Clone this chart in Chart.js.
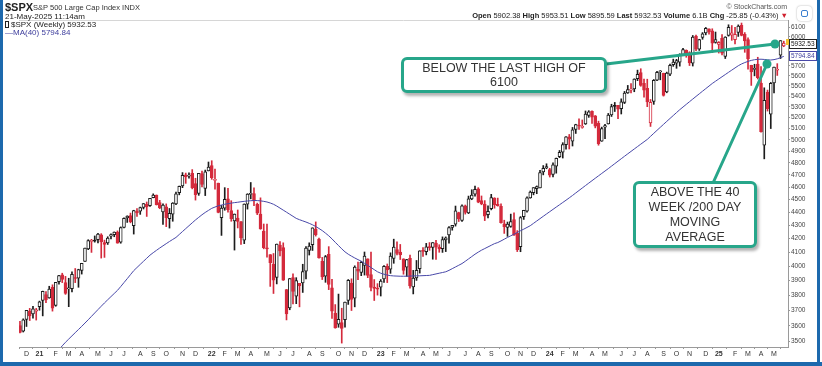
<!DOCTYPE html>
<html>
<head>
<meta charset="utf-8">
<script src="https://cdn.jsdelivr.net/npm/chart.js@4.4.1/dist/chart.umd.min.js"></script>
<style>
  html, body { margin: 0; padding: 0; background: #fff; }
  #wrap { position: relative; width: 822px; height: 366px; overflow: hidden; font-family: "Liberation Sans", Arial, sans-serif; }
  #chart { position: absolute; left: 0; top: 0; }
  .t { position: absolute; white-space: nowrap; color: #222; line-height: 1; }
  .bar { position: absolute; background: #1d69ad; }
  .callout { position: absolute; box-sizing: border-box; border: 3px solid #27a68a; border-radius: 6px; background: #fff;
             box-shadow: 2px 3px 3px rgba(0,0,0,0.3); text-align: center; color: #333; font-size: 12.5px; }
  .icon { position: absolute; left: 797px; top: 6px; width: 15px; height: 15px; border-radius: 4px; background: #fff;
          box-shadow: 0 0 2px rgba(0,0,0,0.35); }
  .icon i { position: absolute; left: 4px; top: 4px; width: 5px; height: 5px; border: 1px solid #3a7fd0; border-radius: 2px; }
</style>
</head>
<body>
<div id="wrap">
  <canvas id="chart" width="822" height="366"></canvas>

  <div class="t" style="left:5px;top:2px;font-size:11px;font-weight:bold;">$SPX</div>
  <div class="t" style="left:33px;top:4px;font-size:7.5px;color:#333;">S&amp;P 500 Large Cap Index INDX</div>
  <div class="t" style="left:5px;top:12.5px;font-size:8px;">21-May-2025 11:14am</div>
  <div class="t" style="left:5px;top:20.5px;font-size:8px;"><span style="display:inline-block;width:2px;height:5px;border:1px solid #222;margin-right:2px;vertical-align:-1px;"></span>$SPX (Weekly) 5932.53</div>
  <div class="t" style="left:5px;top:28.5px;font-size:8px;color:#3d3d9c;">&#8212;MA(40) 5794.84</div>

  <div class="t" style="right:35px;top:3px;font-size:7px;color:#555;">&copy; StockCharts.com</div>
  <div class="t" style="right:34px;top:12px;font-size:7.5px;"><b>Open</b> 5902.38 <b>High</b> 5953.51 <b>Low</b> 5895.59 <b>Last</b> 5932.53 <b>Volume</b> 6.1B <b>Chg</b> -25.85 (-0.43%) <span style="color:#d0202e;">&#9660;</span></div>
  <div class="icon"><i></i></div>

  <div class="callout" style="left:401px;top:57px;width:206px;height:36px;line-height:14px;padding-top:1px;">BELOW THE LAST HIGH OF<br>6100</div>
  <div class="callout" style="left:633px;top:181px;width:124px;height:67px;line-height:15px;padding-top:1px;">ABOVE THE 40<br>WEEK /200 DAY<br>MOVING<br>AVERAGE</div>

  <div class="bar" style="left:0;top:0;width:3px;height:366px;"></div>
  <div class="bar" style="left:817px;top:0;width:3px;height:366px;"></div>
  <div class="bar" style="left:0;top:362px;width:822px;height:4px;"></div>
</div>

<script>
// weekly bars, $SPX, week of 16-Nov-2020 through week of 19-May-2025 (index 0..235)
const opens = [
  3600,3566,3641,3694,3675,3693,3723,
  3764,3803,3781,3852,3732,3892,3939,3885,3842,3844,3914,3916,3969,4034,4124,4179,4186,4192,4228,4169,4168,4217,4229,4248,4173,4284,4356,4373,4296,4409,4407,4438,4461,4450,4514,4535,4475,4403,4442,4349,4385,4464,4554,4610,4701,4689,4712,4628,4548,4710,4588,4733,
  4778,4655,4632,4357,4432,4505,4412,4332,4355,4327,4188,4462,4541,4547,4462,4385,4255,4131,4082,4013,3920,4151,4134,3838,3715,3920,3793,3880,3883,3965,4113,4155,4270,4195,4034,3930,4084,3849,3682,3610,3620,3638,3765,3881,3780,3978,3956,4005,4052,3940,3854,3843,
  3853,3911,3999,3978,4055,4119,4101,4052,3992,4055,3856,3917,3982,4109,4104,4140,4134,4166,4136,4126,4190,4226,4283,4308,4396,4337,4450,4394,4505,4543,4585,4492,4464,4381,4427,4511,4462,4445,4310,4284,4290,4343,4239,4140,4365,4407,4513,4555,4587,4593,4725,4758,
  4745,4704,4772,4853,4892,4957,5026,4989,5093,5131,5111,5142,5220,5258,5218,5149,4988,5114,5142,5225,5306,5315,5284,5341,5432,5460,5471,5572,5632,5525,5477,5151,5351,5557,5638,5624,5442,5615,5712,5726,5737,5816,5857,5833,5725,6008,5869,5992,6040,6083,6063,5941,5920,
  5982,5795,6014,6017,5969,6046,6121,6026,5969,5705,5664,5718,5527,4953,5441,5232,5529,5655,5807,5902
];
const highs = [
  3628,3644,3699,3712,3726,3712,3760,
  3827,3824,3860,3870,3887,3935,3950,3928,3915,3960,3983,3978,4020,4129,4191,4194,4219,4238,4236,4188,4213,4234,4249,4257,4287,4356,4372,4393,4415,4429,4440,4468,4480,4510,4545,4536,4493,4465,4465,4429,4475,4559,4608,4719,4715,4718,4744,4672,4713,4731,4740,4808,
  4819,4749,4632,4453,4595,4590,4490,4386,4417,4327,4465,4546,4637,4593,4471,4513,4309,4308,4082,4090,4159,4178,4168,3838,3913,3946,3919,3880,4013,4141,4168,4280,4325,4204,4062,4076,4140,3907,3737,3807,3713,3753,3906,3911,4002,4029,4034,4101,4052,4101,3906,3878,
  3906,4004,4015,4095,4195,4176,4156,4052,4048,4079,3970,4040,4110,4133,4164,4170,4170,4186,4154,4212,4212,4290,4299,4448,4400,4458,4456,4527,4578,4607,4595,4528,4491,4450,4541,4514,4511,4466,4338,4324,4385,4394,4259,4366,4415,4521,4568,4595,4609,4738,4778,4793,
  4755,4802,4842,4907,4975,5030,5048,5111,5140,5189,5179,5262,5265,5264,5220,5168,5114,5139,5239,5325,5342,5315,5376,5447,5505,5524,5570,5656,5670,5566,5566,5370,5563,5643,5651,5626,5636,5716,5767,5765,5822,5878,5862,5843,6013,6018,5973,6044,6099,6085,6085,6050,5949,
  6022,6000,6128,6120,6101,6127,6147,6044,5987,5705,5715,5786,5691,5482,5460,5534,5687,5721,5959,5953
];
const lows = [
  3555,3560,3595,3633,3648,3636,3700,
  3663,3750,3779,3694,3726,3875,3885,3805,3723,3821,3885,3853,3944,4034,4118,4098,4173,4168,4057,4062,4156,4197,4213,4165,4165,4280,4321,4318,4233,4367,4383,4425,4367,4446,4513,4456,4427,4305,4289,4278,4330,4459,4537,4595,4630,4672,4585,4495,4533,4600,4531,4733,
  4663,4582,4395,4223,4415,4401,4330,4115,4279,4157,4162,4424,4505,4450,4381,4269,4124,4063,3859,3811,3876,4073,3900,3637,3703,3741,3743,3722,3818,3910,4079,4112,4218,4057,3906,3887,3837,3647,3584,3590,3491,3590,3738,3698,3722,3906,3933,3937,3919,3828,3764,3800,
  3794,3887,3885,3949,4020,4079,4047,3943,3928,3847,3808,3900,3951,4069,4080,4113,4049,4048,4099,4098,4104,4166,4262,4293,4328,4328,4385,4389,4498,4527,4474,4458,4335,4356,4418,4431,4447,4316,4238,4216,4284,4223,4104,4103,4344,4401,4510,4537,4546,4593,4700,4751,
  4682,4682,4714,4845,4842,4918,4920,4946,5057,5094,5104,5138,5203,5147,5107,4953,4987,5011,5142,5211,5257,5191,5234,5331,5428,5433,5444,5552,5497,5391,5302,5120,5324,5551,5560,5402,5434,5602,5694,5674,5696,5803,5786,5702,5697,5853,5856,5973,6020,6026,5833,5932,5829,
  5809,5773,6006,5962,5923,6003,6009,5837,5666,5505,5599,5568,5069,4835,5261,5101,5433,5603,5773,5895
];
const closes = [
  3558,3638,3699,3663,3709,3703,3756,
  3825,3768,3841,3714,3887,3934,3907,3811,3842,3943,3913,3975,4020,4129,4185,4180,4181,4233,4174,4156,4204,4230,4247,4166,4281,4352,4369,4327,4412,4395,4436,4468,4442,4509,4535,4459,4433,4455,4357,4391,4471,4545,4605,4697,4683,4698,4595,4538,4712,4621,4726,4766,
  4677,4663,4398,4432,4501,4419,4349,4385,4329,4204,4463,4543,4546,4488,4392,4272,4132,4123,4024,3901,4158,4109,3901,3675,3912,3825,3899,3863,3962,4130,4145,4280,4228,4058,3924,4067,3873,3693,3586,3640,3583,3753,3901,3771,3993,3965,4026,4072,3934,3852,3845,3840,
  3895,3999,3973,4071,4136,4090,4079,3970,4046,3862,3917,3971,4109,4105,4138,4133,4169,4136,4124,4192,4205,4282,4299,4410,4348,4450,4399,4505,4536,4582,4478,4464,4370,4406,4516,4457,4450,4320,4288,4309,4327,4224,4117,4358,4415,4514,4559,4595,4604,4719,4755,4770,
  4697,4784,4840,4891,4959,5027,5006,5089,5137,5124,5117,5234,5254,5204,5123,4967,5100,5128,5223,5303,5305,5278,5347,5432,5465,5460,5567,5615,5505,5459,5347,5344,5554,5634,5648,5408,5626,5703,5738,5751,5815,5865,5808,5729,5996,5870,5969,6032,6090,6051,5931,5971,5942,
  5827,5997,6101,6041,6026,6115,6013,5955,5770,5639,5668,5581,5074,5363,5283,5525,5687,5660,5958,5932
];
// 40-week moving average as drawn
const ma40 = [
  3160,3185,3210,3235,3260,3285,3310,3335,3360,3385,3408,3430,3452,3474,3496,3516,3536,3556,3576,3596,
  3617,3638,3660,3682,3704,3726,3748,3769,3790,3811,3832,3858,3885,3912,3940,3968,3990,4012,4034,4056,
  4078,4096,4113,4130,4146,4162,4178,4193,4208,4230,4252,4274,4296,4318,4340,4360,4380,4398,4414,4430,
  4440,4450,4456,4462,4467,4471,4475,4478,4482,4485,4488,4490,4492,4491,4489,4485,4480,4472,4462,4448,
  4432,4416,4400,4384,4368,4352,4342,4333,4324,4314,4303,4290,4275,4259,4240,4220,4197,4172,4148,4124,
  4102,4085,4071,4058,4046,4035,4020,4005,3990,3975,3960,3950,3943,3937,3933,3931,3930,3929,3929,3929,
  3930,3931,3932,3932,3933,3934,3935,3940,3945,3950,3955,3960,3970,3982,3994,4006,4018,4034,4051,4068,
  4085,4100,4114,4126,4138,4150,4162,4170,4182,4195,4208,4220,4232,4245,4258,4270,4283,4296,4314,4332,
  4350,4368,4386,4404,4422,4440,4458,4476,4494,4513,4532,4552,4572,4592,4612,4632,4652,4672,4692,4712,
  4732,4752,4773,4794,4815,4836,4857,4878,4899,4920,4941,4962,4983,5004,5031,5058,5085,5112,5139,5166,
  5193,5220,5247,5274,5299,5324,5349,5374,5399,5424,5449,5474,5499,5524,5546,5568,5590,5612,5634,5656,
  5678,5700,5718,5732,5744,5754,5761,5765,5766,5764,5760,5758,5762,5770,5782,5795
];
const prevCloseBefore = 3585;
const lastMA = 5794.84;
const lastClose = 5932.53;

// axis labels
const monthTicks = [2,6,11,15,19,24,28,32,37,41,45,50,54,59,63,67,71,76,80,84,89,93,98,102,106,111,115,119,124,128,132,137,141,145,150,154,158,163,167,171,176,180,185,189,193,198,202,206,211,215,220,224,228,232];
const monthLabels = ['D','21','F','M','A','M','J','J','A','S','O','N','D','22','F','M','A','M','J','J','A','S','O','N','D','23','F','M','A','M','J','J','A','S','O','N','D','24','F','M','A','M','J','J','A','S','O','N','D','25','F','M','A','M'];
const yTicks = [3500,3600,3700,3800,3900,4000,4100,4200,4300,4400,4500,4600,4700,4800,4900,5000,5100,5200,5300,5400,5500,5600,5700,5800,5900,6000,6100];

const BLACK = '#1c1c1c';
const RED = '#d42a3c';
const TEAL = '#27a68a';
const FONT = '"Liberation Sans", Arial, sans-serif';

const colors = closes.map((c, i) => c >= (i ? closes[i - 1] : prevCloseBefore) ? BLACK : RED);
const fills = closes.map((c, i) => c < opens[i] ? colors[i] : '#ffffff');
const bodies = closes.map((c, i) => ({ x: i, y: [Math.min(opens[i], c), Math.max(opens[i], c)] }));
const wicks = closes.map((c, i) => ({ x: i, y: [lows[i], highs[i]] }));
const maPoints = ma40.map((v, i) => ({ x: i, y: v }));
const tickName = {};
monthTicks.forEach((t, k) => { tickName[t] = monthLabels[k]; });

Chart.defaults.font.family = FONT;

const extras = {
  id: 'extras',
  afterDraw(chart) {
    const { ctx, chartArea: a, scales: { y } } = chart;
    ctx.save();
    // top rule of the price panel
    ctx.strokeStyle = '#d6d6d6';
    ctx.lineWidth = 1;
    ctx.beginPath();
    ctx.moveTo(a.left, a.top + 0.5);
    ctx.lineTo(a.right, a.top + 0.5);
    ctx.stroke();

    // last value tags on the price axis
    const tag = (val, text, border, color, dy) => {
      const yy = Math.round(y.getPixelForValue(val)) + dy;
      ctx.fillStyle = '#fff';
      ctx.fillRect(789, yy - 5, 28, 10);
      ctx.strokeStyle = border;
      ctx.lineWidth = 1;
      ctx.strokeRect(789.5, yy - 4.5, 27, 9);
      ctx.fillStyle = color;
      ctx.font = '6.5px ' + FONT;
      ctx.textBaseline = 'middle';
      ctx.textAlign = 'left';
      ctx.fillText(text, 791, yy + 0.5);
      return yy;
    };
    const py = tag(lastClose, lastClose.toFixed(2), '#222', '#111', 1);
    ctx.fillStyle = '#f2c230';
    ctx.fillRect(786, py - 5, 3, 6);
    tag(lastMA, lastMA.toFixed(2), '#4a4aa8', '#3d3d9c', 0);

    // callout leaders
    ctx.strokeStyle = TEAL;
    ctx.fillStyle = TEAL;
    ctx.lineWidth = 3;
    ctx.lineCap = 'round';
    ctx.beginPath();
    ctx.moveTo(606, 64);
    ctx.lineTo(775, 44);
    ctx.moveTo(713, 183);
    ctx.lineTo(767, 64);
    ctx.stroke();
    [[775, 44], [767, 64]].forEach(([px, pyy]) => {
      ctx.beginPath();
      ctx.arc(px, pyy, 4.5, 0, Math.PI * 2);
      ctx.fill();
    });
    ctx.restore();
  }
};

new Chart(document.getElementById('chart'), {
  type: 'bar',
  data: {
    datasets: [
      {
        type: 'line',
        data: maPoints,
        borderColor: '#4848a8',
        borderWidth: 1,
        pointRadius: 0,
        tension: 0,
        order: 0
      },
      {
        data: bodies,
        backgroundColor: fills,
        borderColor: colors,
        borderWidth: 1,
        borderSkipped: false,
        barThickness: 3,
        minBarLength: 1,
        grouped: false,
        order: 1
      },
      {
        data: wicks,
        backgroundColor: colors,
        borderWidth: 0,
        barThickness: 1,
        grouped: false,
        order: 2
      }
    ]
  },
  options: {
    responsive: false,
    animation: false,
    layout: { padding: { left: 19, top: 20, right: 0, bottom: 0 } },
    plugins: {
      legend: { display: false },
      tooltip: { enabled: false }
    },
    scales: {
      x: {
        type: 'linear',
        min: -0.3,
        max: 236.3,
        offset: false,
        afterBuildTicks: (scale) => { scale.ticks = monthTicks.map(v => ({ value: v })); },
        afterFit: (scale) => { scale.height = 19; },
        grid: { drawOnChartArea: false, tickLength: 2, color: '#999' },
        border: { display: true, color: '#9a9a9a', dash: [1, 1] },
        ticks: {
          autoSkip: false,
          maxRotation: 0,
          padding: 1,
          color: '#333',
          font: (c) => ({ size: 7, weight: c.tick && /^\d/.test(tickName[c.tick.value] || '') ? 'bold' : 'normal' }),
          callback: (v) => tickName[v] || ''
        }
      },
      y: {
        type: 'logarithmic',
        position: 'right',
        min: 3467,
        max: 6180,
        afterBuildTicks: (scale) => { scale.ticks = yTicks.map(v => ({ value: v })); },
        afterFit: (scale) => { scale.width = 34; },
        grid: { drawOnChartArea: false, tickLength: 2, color: '#999' },
        border: { display: true, color: '#9a9a9a', dash: [1, 1] },
        ticks: {
          autoSkip: false,
          padding: 1,
          color: '#444',
          font: { size: 6.5 },
          callback: (v) => String(v)
        }
      }
    }
  },
  plugins: [extras]
});
</script>
</body>
</html>
